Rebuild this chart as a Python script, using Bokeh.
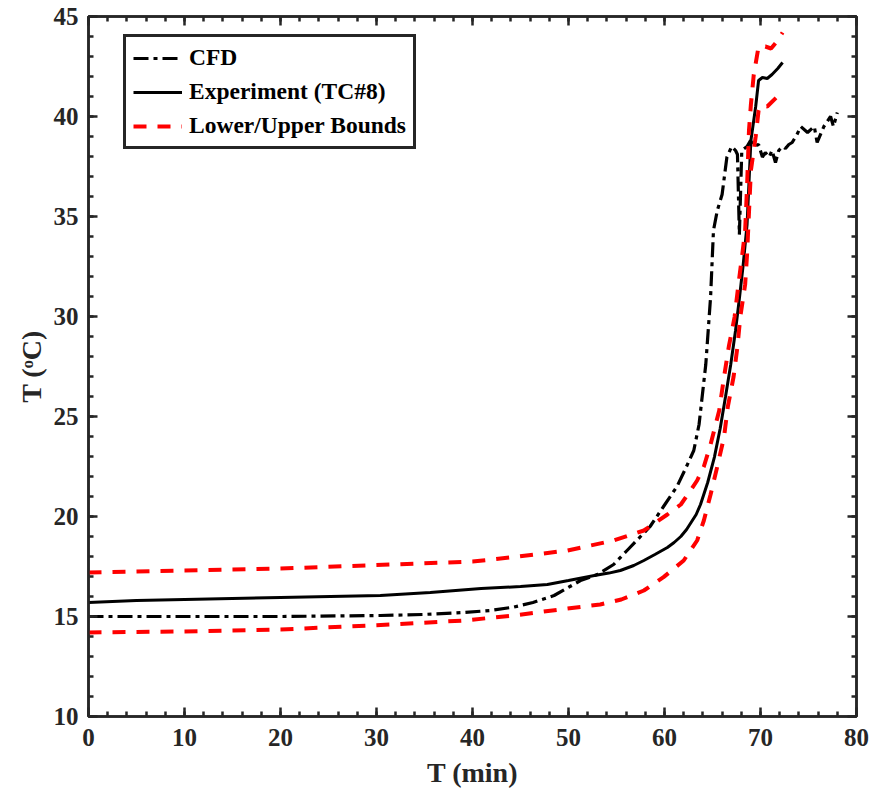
from bokeh.plotting import figure
from bokeh.models import Range1d, FixedTicker, LinearAxis, Legend, LegendItem
from bokeh.embed import file_html
from bokeh.resources import INLINE

# ---- data ----
cfd_t = [0, 10, 20, 30.4, 34.8, 39.1, 41.8, 44.3, 46.3, 48.5, 49.8, 51.25, 53.0, 54.7, 56.1,
         57.5, 58.5, 59.9, 61.3, 62.2, 63.05, 63.6, 64.3, 64.8, 65.1, 65.5, 66.0, 66.4, 66.5,
         67.0, 67.4, 67.6, 67.8, 68.05, 68.6, 68.96, 69.3, 69.8, 70.2, 70.5, 70.9, 71.2, 71.56,
         71.9, 72.3, 72.6, 72.95, 73.3, 73.8, 74.2, 74.9, 75.6, 75.9, 76.6, 77.3, 77.6, 78.0]
cfd_T = [15.0, 15.0, 15.0, 15.05, 15.1, 15.2, 15.3, 15.47, 15.7, 16.05, 16.4, 16.8, 17.1, 17.6, 18.3,
         19.0, 19.5, 20.5, 21.5, 22.4, 23.3, 24.6, 27.6, 30.97, 34.3, 35.3, 36.1, 37.6, 37.97,
         38.5, 38.3, 38.1, 34.1, 38.3, 38.5, 38.8, 38.5, 38.6, 37.97, 38.2, 37.97, 38.3, 37.7,
         38.3, 38.5, 38.4, 38.6, 38.7, 39.1, 39.5, 39.2, 39.5, 38.7, 39.5, 40.0, 39.5, 40.2]

exp_t = [0, 5, 10, 20, 30.4, 35.6, 40.9, 45, 47.8, 50.0, 52.7, 54.2, 55.4, 56.8, 57.85, 59.0,
         60.3, 61.0, 61.7, 62.3, 62.7, 63.3, 63.75, 64.5, 65.2, 65.8, 66.35, 66.9, 67.4, 67.8,
         68.2, 68.6, 69.0, 69.5, 69.8, 70.2, 70.7, 71.2, 71.8, 72.3]
exp_T = [15.7, 15.8, 15.85, 15.95, 16.05, 16.2, 16.4, 16.5, 16.6, 16.8, 17.05, 17.17, 17.3, 17.55,
         17.8, 18.1, 18.45, 18.7, 19.0, 19.35, 19.65, 20.1, 20.6, 21.7, 22.97, 24.4, 25.97, 27.6,
         29.3, 30.9, 32.6, 34.6, 38.8, 40.5, 41.8, 41.95, 41.9, 42.1, 42.4, 42.7]

upper_t = [0, 10, 20, 31.5, 40, 44.3, 49.9, 54.7, 57.85, 60.3, 61.7, 62.7, 63.4, 64.1, 64.8,
           65.7, 66.2, 66.7, 67.3, 67.7, 68.1, 68.4, 68.6, 68.8, 69.0, 69.3, 69.8, 70.5, 71.1,
           71.7, 72.3]
upper_T = [17.2, 17.3, 17.4, 17.6, 17.75, 17.97, 18.3, 18.8, 19.3, 20.1, 20.6, 21.3, 21.8, 22.5,
           23.6, 25.3, 26.97, 28.5, 29.97, 31.6, 33.1, 34.3, 36.5, 39.3, 40.6, 42.1, 43.5, 43.5,
           43.4, 43.75, 44.2]

lower_t = [0, 10, 20, 31.5, 39.1, 44.3, 49.9, 53.3, 55.5, 57.85, 59.9, 62.0, 63.4, 64.1, 64.8,
           65.5, 66.2, 66.6, 67.2, 67.6, 67.9, 68.4, 68.6, 69.0, 69.5, 69.8, 70.0, 70.7, 71.7,
           72.3]
lower_T = [14.2, 14.25, 14.35, 14.6, 14.8, 15.05, 15.4, 15.6, 15.85, 16.3, 16.97, 17.8, 18.8,
           19.8, 21.1, 22.5, 23.97, 25.5, 27.0, 28.5, 30.0, 31.6, 33.1, 37.3, 39.0, 40.3, 40.55,
           40.5, 40.97, 41.3]

x_major = [0, 10, 20, 30, 40, 50, 60, 70, 80]
x_minor = list(range(0, 81, 2))
y_major = [10, 15, 20, 25, 30, 35, 40, 45]
y_minor = list(range(10, 46, 1))

FONT = "Liberation Serif"
AX = "#262626"

p = figure(width=886, height=804, x_range=Range1d(0, 80), y_range=Range1d(10, 45),
           output_backend="svg", toolbar_location=None,
           min_border_left=88, min_border_right=30, min_border_top=16, min_border_bottom=88)
p.xgrid.visible = False
p.ygrid.visible = False
p.outline_line_color = AX
p.outline_line_width = 2.5
p.outline_line_alpha = 1.0
p.background_fill_color = "white"
p.border_fill_color = "white"

def style_axis(ax, ticks, minor, labels=True):
    ax.ticker = FixedTicker(ticks=ticks, minor_ticks=minor)
    ax.axis_line_color = AX
    ax.axis_line_width = 2.5
    ax.major_tick_line_color = AX
    ax.major_tick_line_width = 2.5
    ax.minor_tick_line_color = AX
    ax.minor_tick_line_width = 2.5
    ax.major_tick_in = 9
    ax.major_tick_out = 0
    ax.minor_tick_in = 5
    ax.minor_tick_out = 0
    ax.major_label_text_font = FONT
    ax.major_label_text_font_style = "bold"
    ax.major_label_text_color = AX
    ax.major_label_text_font_size = "25px"
    if not labels:
        ax.major_label_overrides = {t: "" for t in ticks}
        ax.major_label_text_font_size = "6px"
        ax.major_label_standoff = 0

style_axis(p.xaxis[0], x_major, x_minor)
style_axis(p.yaxis[0], y_major, y_minor)
p.xaxis[0].major_label_standoff = 12
p.yaxis[0].major_label_standoff = 10

for ax in (p.xaxis[0], p.yaxis[0]):
    ax.axis_label_text_font = FONT
    ax.axis_label_text_font_style = "bold"
    ax.axis_label_text_font_size = "28px"
    ax.axis_label_text_color = AX
p.xaxis[0].axis_label = "T (min)"
p.xaxis[0].axis_label_standoff = 8
p.yaxis[0].axis_label = "T (\u1d52C)"
p.yaxis[0].axis_label_standoff = 4

top_ax = LinearAxis()
style_axis(top_ax, x_major, x_minor, labels=False)
p.add_layout(top_ax, "above")
right_ax = LinearAxis()
style_axis(right_ax, y_major, y_minor, labels=False)
p.add_layout(right_ax, "right")

r_cfd = p.line(cfd_t, cfd_T, line_color="black", line_width=3.2, line_dash="15 5 4 5")
r_exp = p.line(exp_t, exp_T, line_color="black", line_width=3)
r_low = p.line(lower_t, lower_T, line_color="#ff0000", line_width=4, line_dash="13 11")
r_up = p.line(upper_t, upper_T, line_color="#ff0000", line_width=4, line_dash="13 11")

legend = Legend(items=[LegendItem(label="CFD", renderers=[r_cfd]),
                       LegendItem(label="Experiment (TC#8)", renderers=[r_exp]),
                       LegendItem(label="Lower/Upper Bounds", renderers=[r_low])],
                location=(35, 567), label_text_font=FONT, label_text_font_style="bold",
                label_text_font_size="23.5px", label_text_color="black",
                glyph_width=49, glyph_height=20, label_standoff=7, padding=7, spacing=7,
                label_height=26, border_line_color=AX, border_line_width=3,
                border_line_alpha=1.0,
                background_fill_color="white", background_fill_alpha=1.0, margin=0)
p.add_layout(legend)

open("out.html", "w").write(file_html(p, INLINE))
